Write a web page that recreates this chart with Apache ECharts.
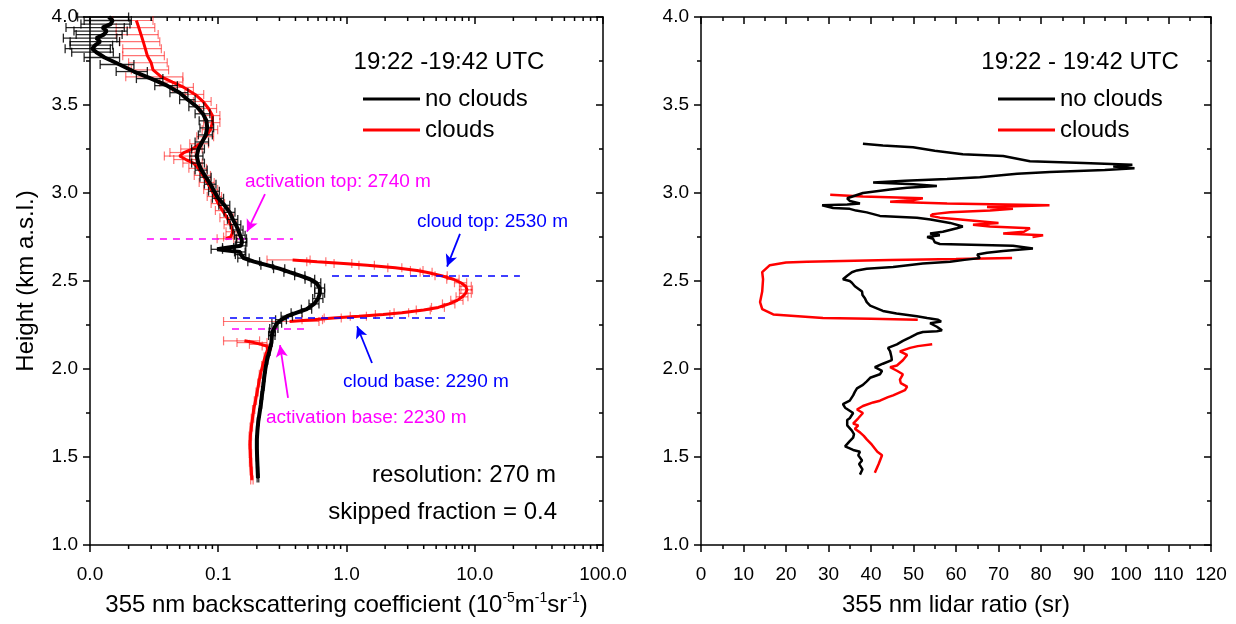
<!DOCTYPE html>
<html>
<head>
<meta charset="utf-8">
<script src="https://cdn.jsdelivr.net/npm/echarts@6/dist/echarts.min.js"></script>
<style>
html,body{margin:0;padding:0;background:#fff;}
#chart{width:1236px;height:624px;}
</style>
</head>
<body>
<div id="chart"></div>
<script>
// ---------- Left panel: backscattering coefficient (1e-5 m^-1 sr^-1) ----------
const bscHeightNoCloud = [1.38,1.42,1.46,1.50,1.55,1.60,1.65,1.70,1.75,1.80,1.85,1.90,1.95,2.00,2.05,2.10,2.15,
  2.19,2.21,2.23,2.26,2.28,2.30,
  2.32,2.34,2.37,2.40,2.43,2.46,2.49,2.51,
  2.53,2.55,2.57,2.59,2.61,2.63,
  2.65,2.665,2.68,2.69,2.70,
  2.72,2.74,2.76,2.79,2.82,2.85,2.89,2.93,2.97,3.01,3.05,3.09,
  3.13,3.17,3.21,3.25,3.29,3.33,3.37,3.41,3.45,3.49,3.53,3.57,
  3.61,3.65,3.69,3.73,3.77,3.80,3.82,3.84,3.86,3.88,3.90,3.92,3.94,3.96,3.98,4.00];
const bscNoCloud = [0.204,0.203,0.202,0.201,0.200,0.200,0.202,0.205,0.210,0.215,0.219,0.224,0.228,0.233,0.240,0.250,0.260,
  0.262,0.264,0.272,0.287,0.310,0.344,
  0.41,0.49,0.56,0.60,0.62,0.62,0.58,0.52,
  0.434,0.36,0.30,0.24,0.19,0.158,
  0.150,0.148,0.098,0.12,0.150,
  0.153,0.152,0.148,0.143,0.137,0.130,0.123,0.112,0.100,0.093,0.087,0.080,
  0.074,0.070,0.068,0.070,0.075,0.080,0.082,0.081,0.076,0.068,0.058,0.050,
  0.040,0.030,0.022,0.017,0.013,0.0112,0.0104,0.0110,0.0120,0.0112,0.0128,0.0135,0.0125,0.0145,0.0150,0.0140];
const bscErrNoCloud = [0.003,0.003,0.003,0.003,0.003,0.003,0.003,0.003,0.003,0.003,0.003,0.003,0.003,0.003,0.003,0.003,0.003,
  0.015,0.015,0.02,0.025,0.03,0.035,
  0.04,0.045,0.05,0.055,0.055,0.055,0.05,0.045,
  0.04,0.035,0.03,0.025,0.02,0.016,
  0.014,0.014,0.01,0.012,0.014,
  0.014,0.014,0.014,0.013,0.013,0.012,0.012,0.011,0.010,0.009,0.009,0.008,
  0.008,0.008,0.008,0.008,0.009,0.010,0.010,0.010,0.010,0.009,0.008,0.008,
  0.008,0.007,0.006,0.005,0.004,0.004,0.004,0.004,0.005,0.005,0.005,0.006,0.006,0.006,0.006,0.006];

const bscHeightCloud = [1.37,1.42,1.47,1.52,1.57,1.62,1.67,1.72,1.77,1.82,1.87,1.92,1.97,2.02,2.07,2.11,2.13,2.14,2.15,2.16,
  null,
  2.27,2.28,2.29,2.30,2.31,2.32,2.335,2.35,2.37,2.39,2.41,2.43,2.45,2.47,2.49,2.51,2.53,2.55,2.56,2.575,2.59,2.60,2.61,2.62,
  null,
  2.74,2.75,2.78,2.82,2.86,2.90,2.94,2.98,3.02,3.06,3.10,3.14,3.17,3.19,3.21,3.23,3.25,3.28,3.32,3.36,3.40,3.44,3.48,3.52,3.56,3.60,3.63,3.66,3.70,3.74,3.78,3.82,3.86,3.90,3.94,3.98];
const bscCloud = [0.183,0.181,0.179,0.178,0.177,0.178,0.181,0.185,0.189,0.195,0.201,0.207,0.213,0.222,0.232,0.242,0.240,0.215,0.190,0.160,
  null,
  0.36,0.55,0.79,1.25,1.93,2.7,4.0,5.2,6.3,7.3,8.0,8.5,8.7,8.5,7.8,6.8,5.5,4.2,3.55,2.4,1.45,0.95,0.59,0.38,
  null,
  0.115,0.125,0.130,0.125,0.117,0.108,0.100,0.094,0.088,0.082,0.076,0.070,0.064,0.056,0.050,0.054,0.063,0.072,0.080,0.087,0.090,0.090,0.084,0.076,0.066,0.054,0.044,0.036,0.031,0.030,0.028,0.027,0.026,0.025,0.024,0.023];
const bscErrCloud = [0.004,0.004,0.004,0.004,0.004,0.004,0.004,0.004,0.004,0.004,0.004,0.004,0.004,0.004,0.004,0.004,0.02,0.04,0.05,0.05,
  null,
  0.25,0.1,0.12,0.18,0.25,0.35,0.5,0.6,0.7,0.8,0.85,0.9,0.9,0.9,0.85,0.75,0.6,0.45,0.4,0.3,0.2,0.15,0.1,0.14,
  null,
  0.017,0.015,0.015,0.014,0.014,0.013,0.012,0.012,0.011,0.011,0.011,0.011,0.011,0.011,0.012,0.012,0.012,0.012,0.012,0.012,0.013,0.013,0.013,0.012,0.011,0.010,0.009,0.017,0.010,0.010,0.010,0.009,0.009,0.009,0.008,0.008];

// ---------- Right panel: lidar ratio (sr) ----------
const lrHeightNoCloud = [1.40,1.43,1.46,1.48,1.51,1.53,1.54,1.56,1.59,1.61,
  1.63,1.65,1.68,1.71,1.72,1.75,1.78,1.80,1.82,1.85,
  1.87,1.89,1.91,1.93,1.95,1.97,1.99,2.01,2.03,2.05,
  2.07,2.10,2.12,2.14,2.16,2.18,2.20,2.21,2.215,2.22,
  2.24,2.26,2.27,2.28,2.29,2.30,2.315,2.33,2.36,2.38,
  2.40,2.42,2.44,2.47,2.49,2.50,2.51,2.53,2.55,2.56,
  2.57,2.58,2.60,2.61,2.62,2.63,2.65,2.66,2.67,2.685,
  2.70,2.71,2.72,2.74,2.75,2.76,2.77,2.78,2.80,2.81,
  2.83,2.85,2.86,2.87,2.89,2.90,2.91,2.915,2.93,2.935,
  2.94,2.955,2.97,2.98,3.00,3.02,3.03,3.04,3.05,3.06,
  3.07,3.08,3.09,3.11,3.12,3.13,3.14,3.15,3.16,3.17,
  3.18,3.21,3.22,3.24,3.26,3.27,3.28];
const lrNoCloud = [37.4,38.0,37.2,37.9,37.0,37.4,35.8,33.9,35.0,35.8,
  36.0,35.5,34.4,34.4,35.0,35.8,33.9,33.4,35.0,35.8,
  36.2,36.7,38.1,39.0,39.8,42.1,42.6,40.9,42.8,44.9,
  44.8,44.5,44.0,46.1,47.5,49.2,50.8,52.2,55.5,56.7,
  55.5,53.9,56.5,55.8,53.2,50.8,46.0,42.8,39.8,39.0,
  38.6,38.0,37.9,36.2,35.5,35.0,33.4,34.4,35.5,36.7,
  39.0,45.2,52.2,58.6,62.0,65.6,65.0,67.3,71.1,78.1,
  73.4,56.2,55.0,54.6,53.2,56.2,53.9,56.9,60.2,61.6,
  58.6,54.0,50.8,42.1,39.0,36.5,35.0,31.1,28.5,34.4,
  37.4,35.0,34.4,34.4,38.1,44.5,48.5,55.5,50.0,40.5,
  48.0,57.9,65.6,74.4,82.1,95.0,102.0,97.0,101.5,90.0,
  77.4,71.1,61.6,55.0,49.9,42.8,38.1];

const lrHeightCloud = [1.41,1.46,1.51,1.53,1.57,1.60,1.62,1.64,1.66,1.68,
  1.69,1.72,1.75,1.77,1.79,1.81,1.82,1.84,1.85,1.88,
  1.90,1.92,1.94,1.97,1.99,2.01,2.02,2.05,2.08,2.10,
  2.12,2.13,2.14,
  null,
  2.28,2.285,2.29,2.31,2.34,2.38,2.44,2.51,2.55,2.59,2.605,2.61,2.62,2.625,2.63,
  null,
  2.75,2.76,2.77,2.78,2.80,2.81,2.82,2.83,2.84,2.85,
  2.86,2.87,2.88,2.89,2.90,2.91,2.92,2.93,2.94,2.95,
  2.96,2.97,2.98,2.99];
const lrCloud = [40.9,41.8,42.6,41.5,40.2,39.0,38.3,37.4,36.2,37.0,
  35.8,37.0,38.1,36.7,38.1,40.5,42.1,44.0,45.2,48.0,
  48.5,47.0,46.8,47.5,46.1,44.5,46.1,47.5,48.5,46.8,
  49.2,51.0,54.4,
  null,
  51.0,40.0,28.7,17.0,14.4,13.9,14.4,14.6,14.4,16.2,20.0,24.9,44.5,60.0,73.2,
  null,
  78.0,80.5,71.1,76.0,77.4,68.0,64.0,70.0,69.6,61.0,
  56.2,54.0,54.6,58.6,68.0,73.4,67.3,82.0,57.9,44.5,
  50.0,52.2,38.1,30.4];

// ---------- Annotations (left panel, in data units) ----------
const activationTop = 2.74, cloudTop = 2.53, cloudBase = 2.29, activationBase = 2.23;
const logMinorFactors = [2,3,4,5,6,7,8,9];
const logDecades = [0.01,0.1,1,10];

const FONT = '"Liberation Sans", Arial, sans-serif';
const MAG = '#ff00ff', BLUE = '#0000ff';

function lineData(hs, vs){ return hs.map((h,i)=> (h==null||vs[i]==null) ? '-' : [vs[i], h]); }
function errData(hs, vs, es){ const out=[]; hs.forEach((h,i)=>{ if(h!=null && vs[i]!=null) out.push([vs[i], h, es[i]]); }); return out; }

function errRender(color, capH, lw){
  return function(params, api){
    const v=api.value(0), h=api.value(1), e=api.value(2);
    const a=api.coord([Math.max(v-e, 1e-4), h]);
    const b=api.coord([v+e, h]);
    const st={stroke:color, lineWidth:lw};
    return {type:'group', children:[
      {type:'line', shape:{x1:a[0],y1:a[1],x2:b[0],y2:b[1]}, style:st},
      {type:'line', shape:{x1:a[0],y1:a[1]-capH,x2:a[0],y2:a[1]+capH}, style:st},
      {type:'line', shape:{x1:b[0],y1:b[1]-capH,x2:b[0],y2:b[1]+capH}, style:st}
    ]};
  };
}

function minorLogRender(params, api){
  const children=[];
  logDecades.forEach(d=>{ logMinorFactors.forEach(m=>{
    const v=d*m;
    const pb=api.coord([v,1.0]); const pt=api.coord([v,4.0]);
    children.push({type:'line', shape:{x1:pb[0],y1:pb[1],x2:pb[0],y2:pb[1]+4}, style:{stroke:'#000',lineWidth:1.5}});
    children.push({type:'line', shape:{x1:pt[0],y1:pt[1],x2:pt[0],y2:pt[1]+4}, style:{stroke:'#000',lineWidth:1.5}});
  });});
  return {type:'group', children};
}

const axLine = {onZero:false, lineStyle:{color:'#000', width:1.5}};
const tick = (inside)=>({show:true, inside, length:7, lineStyle:{color:'#000', width:1.5}});
const minor = {show:true, splitNumber:2, length:4, lineStyle:{color:'#000', width:1.5}};
const lbl = (fmt, margin)=>({show:true, color:'#000', fontSize:19, fontFamily:FONT, margin, formatter:fmt});
const nameStyle = {color:'#000', fontSize:24, fontFamily:FONT};

function xAxisPair(grid, cfg, name){
  const base = Object.assign({gridIndex:grid, axisLine:axLine, splitLine:{show:false}, minorSplitLine:{show:false}}, cfg);
  const bottom = Object.assign({}, base, {position:'bottom', axisTick:tick(false), axisLabel:lbl(cfg.fmt, 20),
    name, nameLocation:'middle', nameGap:46,
    nameTextStyle:Object.assign({}, nameStyle, {lineHeight:28, rich:{s:{fontSize:14, fontFamily:FONT, color:'#000', verticalAlign:'top', lineHeight:28}}})});
  const top = Object.assign({}, base, {position:'top', axisTick:tick(true), axisLabel:{show:false}});
  if (cfg.type==='value'){ bottom.minorTick=minor; top.minorTick=Object.assign({}, minor); }
  delete bottom.fmt; delete top.fmt;
  return [bottom, top];
}
function yAxisPair(grid, name){
  const base = {gridIndex:grid, type:'value', min:1, max:4, interval:0.5, axisLine:axLine, splitLine:{show:false}, minorSplitLine:{show:false}, minorTick:minor};
  const left = Object.assign({}, base, {position:'left', axisTick:tick(false), axisLabel:lbl(v=>v.toFixed(1), 12)});
  if (name){ Object.assign(left, {name, nameLocation:'middle', nameGap:52, nameTextStyle:nameStyle}); }
  const right = Object.assign({}, base, {position:'right', axisTick:tick(true), axisLabel:{show:false}});
  return [left, right];
}

const xAxes = [
  ...xAxisPair(0, {type:'log', logBase:10, min:0.01, max:100, fmt:v=>Number(v).toFixed(1)},
    '355 nm backscattering coefficient (10{s|-5}m{s|-1}sr{s|-1})'),
  ...xAxisPair(1, {type:'value', min:0, max:120, interval:10, fmt:v=>String(v)}, '355 nm lidar ratio (sr)')
];
const yAxes = [...yAxisPair(0, 'Height (km a.s.l.)'), ...yAxisPair(1, null)];

function hLine(x1, x2, h, color){
  return [{coord:[x1,h], lineStyle:{color, type:[7,6], width:1.5}}, {coord:[x2,h]}];
}
function arrow(x1,h1,x2,h2,color){ return [{coord:[x1,h1], lineStyle:{color, type:'solid', width:1.8}}, {coord:[x2,h2]}]; }

const series = [
  {name:'clouds err', type:'custom', xAxisIndex:0, yAxisIndex:0, z:2, renderItem:errRender('rgba(255,0,0,0.55)',4.5,1.2),
    encode:{x:0,y:1}, data:errData(bscHeightCloud, bscCloud, bscErrCloud)},
  {name:'clouds', type:'line', xAxisIndex:0, yAxisIndex:0, z:3, showSymbol:false, connectNulls:false,
    lineStyle:{color:'#ff0000', width:3}, itemStyle:{color:'#ff0000'}, data:lineData(bscHeightCloud, bscCloud)},
  {name:'no clouds err', type:'custom', xAxisIndex:0, yAxisIndex:0, z:4, renderItem:errRender('rgba(0,0,0,0.85)',4.5,1.3),
    encode:{x:0,y:1}, data:errData(bscHeightNoCloud, bscNoCloud, bscErrNoCloud)},
  {name:'no clouds', type:'line', xAxisIndex:0, yAxisIndex:0, z:5, showSymbol:false,
    lineStyle:{color:'#000', width:4}, itemStyle:{color:'#000'}, data:lineData(bscHeightNoCloud, bscNoCloud)},
  {name:'annotations', type:'line', xAxisIndex:0, yAxisIndex:0, z:6, data:[], showSymbol:false,
    markLine:{silent:true, symbol:['none','none'], label:{show:false}, animation:false,
      data:[
        hLine(0.0278, 0.383, activationTop, MAG),
        hLine(0.771, 22.5, cloudTop, BLUE),
        hLine(0.1235, 6.08, cloudBase, BLUE),
        hLine(0.128, 0.519, activationBase, MAG)
      ]}},
  {name:'arrows', type:'line', xAxisIndex:0, yAxisIndex:0, z:6, data:[], showSymbol:false,
    markLine:{silent:true, symbol:['none','arrow'], symbolSize:[9,12], label:{show:false}, animation:false,
      data:[
        arrow(0.2314,2.994,0.1675,2.780,MAG),
        arrow(7.67,2.768,6.08,2.582,BLUE),
        arrow(1.58,2.034,1.21,2.243,BLUE),
        arrow(0.350,1.836,0.303,2.136,MAG)
      ]}},
  {name:'log minor ticks', type:'custom', xAxisIndex:0, yAxisIndex:0, z:10, clip:false, renderItem:minorLogRender, data:[[0.01,1]]},
  {name:'clouds', type:'line', xAxisIndex:2, yAxisIndex:2, z:3, showSymbol:false, connectNulls:false,
    lineStyle:{color:'#ff0000', width:2.5}, itemStyle:{color:'#ff0000'}, data:lineData(lrHeightCloud, lrCloud)},
  {name:'no clouds', type:'line', xAxisIndex:2, yAxisIndex:2, z:4, showSymbol:false,
    lineStyle:{color:'#000', width:2.5}, itemStyle:{color:'#000'}, data:lineData(lrHeightNoCloud, lrNoCloud)}
];

const legendCommon = {orient:'vertical', data:['no clouds','clouds'], icon:'rect', itemWidth:57, itemHeight:3,
  itemGap:7, padding:0, selectedMode:false, textStyle:{color:'#000', fontSize:24, lineHeight:24, fontFamily:FONT}};

const txt = (x,y,text,opts)=>({type:'text', x, y, style:Object.assign({text, fill:'#000', fontSize:24, fontFamily:FONT, verticalAlign:'middle'}, opts||{})});

const option = {
  animation:false,
  backgroundColor:'#fff',
  grid:[{left:90, top:17, width:513, height:531, containLabel:false},
        {left:701, top:17, width:510, height:531, containLabel:false}],
  xAxis:xAxes,
  yAxis:yAxes,
  legend:[Object.assign({left:363, top:87}, legendCommon), Object.assign({left:998, top:87}, legendCommon)],
  series,
  graphic:[
    txt(449,62,'19:22 -19:42 UTC',{align:'center'}),
    txt(1080,62,'19:22 - 19:42 UTC',{align:'center'}),
    txt(556,475,'resolution: 270 m',{align:'right'}),
    txt(557,512,'skipped fraction = 0.4',{align:'right'}),
    txt(245,182,'activation top: 2740 m',{fill:MAG, fontSize:19}),
    txt(417,222,'cloud top: 2530 m',{fill:BLUE, fontSize:19}),
    txt(343,382,'cloud base: 2290 m',{fill:BLUE, fontSize:19}),
    txt(266,418,'activation base: 2230 m',{fill:MAG, fontSize:19})
  ]
};

const chart = echarts.init(document.getElementById('chart'), null, {renderer:'canvas'});
chart.setOption(option);
</script>
</body>
</html>
